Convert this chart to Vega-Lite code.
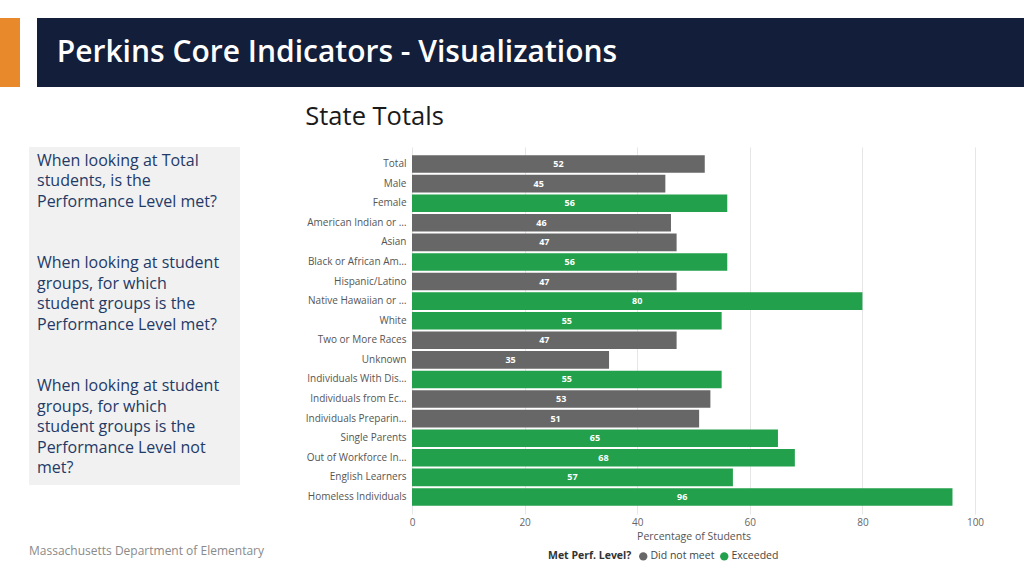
{
  "$schema": "https://vega.github.io/schema/vega-lite/v6.json",
  "background": "white",
  "padding": {"left": 0, "top": 18, "right": 0, "bottom": 0},
  "config": {"view": {"stroke": null}, "font": "Open Sans"},
  "spacing": 17,
  "vconcat": [
    {
      "spacing": 17,
      "hconcat": [
        {"width": 20, "height": 69, "view": {"fill": "#e8892b", "stroke": null}, "data": {"values": [{}]}, "mark": {"type": "text"}, "encoding": {"text": {"value": ""}}},
        {
          "width": 987, "height": 69,
          "view": {"fill": "#121e3a", "stroke": null},
          "data": {"values": [{"label": "Perkins Core Indicators - Visualizations"}]},
          "mark": {"type": "text", "align": "left", "baseline": "middle", "color": "white", "font": "Open Sans", "fontSize": 30, "fontWeight": 600},
          "encoding": {
            "text": {"field": "label"},
            "x": {"datum": 2, "type": "quantitative", "scale": {"domain": [0, 100]}, "axis": null},
            "y": {"datum": 50, "type": "quantitative", "scale": {"domain": [0, 100]}, "axis": null}
          }
        }
      ]
    },
    {
      "spacing": 0,
      "hconcat": [
        {"width": 29, "height": 1, "data": {"values": [{}]}, "mark": {"type": "text"}, "encoding": {"text": {"value": ""}}},
        {
          "spacing": 0,
          "vconcat": [
            {
              "width": 211, "height": 338,
              "view": {"fill": "#f1f1f2", "stroke": null},
              "data": {"values": [
                {"line": 0, "text": "When looking at Total"},
                {"line": 1, "text": "students, is the"},
                {"line": 2, "text": "Performance Level met?"},
                {"line": 5, "text": "When looking at student"},
                {"line": 6, "text": "groups, for which"},
                {"line": 7, "text": "student groups is the"},
                {"line": 8, "text": "Performance Level met?"},
                {"line": 11, "text": "When looking at student"},
                {"line": 12, "text": "groups, for which"},
                {"line": 13, "text": "student groups is the"},
                {"line": 14, "text": "Performance Level not"},
                {"line": 15, "text": "met?"}
              ]},
              "mark": {"type": "text", "align": "left", "baseline": "middle", "color": "#243a66", "fontSize": 16, "font": "Open Sans"},
              "encoding": {
                "text": {"field": "text"},
                "x": {"datum": 8, "type": "quantitative", "scale": {"domain": [0, 211]}, "axis": null},
                "y": {"field": "line", "type": "quantitative", "scale": {"domain": [-0.68, 15.83], "reverse": true, "nice": false, "zero": false}, "axis": null}
              }
            },
            {"width": 10, "height": 56, "data": {"values": [{}]}, "mark": {"type": "text"}, "encoding": {"text": {"value": ""}}},
            {
              "width": 211, "height": 20,
              "data": {"values": [{"label": "Massachusetts Department of Elementary"}]},
              "mark": {"type": "text", "align": "left", "baseline": "middle", "color": "#8a8a8a", "fontSize": 12, "font": "Open Sans"},
              "encoding": {
                "text": {"field": "label"},
                "x": {"datum": 0, "type": "quantitative", "scale": {"domain": [0, 211]}, "axis": null},
                "y": {"datum": 50, "type": "quantitative", "scale": {"domain": [0, 100]}, "axis": null}
              }
            }
          ]
        },
        {"width": 41, "height": 1, "data": {"values": [{}]}, "mark": {"type": "text"}, "encoding": {"text": {"value": ""}}},
        {
          "width": 563, "height": 367,
          "title": {"text": "State Totals", "anchor": "start", "frame": "bounds", "fontSize": 25.5, "fontWeight": "normal", "font": "Open Sans", "color": "#1a1a1a", "offset": 17},
          "data": {"values": [
            {"group": "Total", "pct": 52, "status": "Did not meet"},
            {"group": "Male", "pct": 45, "status": "Did not meet"},
            {"group": "Female", "pct": 56, "status": "Exceeded"},
            {"group": "American Indian or Alaska Native", "pct": 46, "status": "Did not meet"},
            {"group": "Asian", "pct": 47, "status": "Did not meet"},
            {"group": "Black or African American", "pct": 56, "status": "Exceeded"},
            {"group": "Hispanic/Latino", "pct": 47, "status": "Did not meet"},
            {"group": "Native Hawaiian or Other Pacific Islander", "pct": 80, "status": "Exceeded"},
            {"group": "White", "pct": 55, "status": "Exceeded"},
            {"group": "Two or More Races", "pct": 47, "status": "Did not meet"},
            {"group": "Unknown", "pct": 35, "status": "Did not meet"},
            {"group": "Individuals With Disabilities", "pct": 55, "status": "Exceeded"},
            {"group": "Individuals from Economically Disadvantaged Families", "pct": 53, "status": "Did not meet"},
            {"group": "Individuals Preparing for Non-traditional Fields", "pct": 51, "status": "Did not meet"},
            {"group": "Single Parents", "pct": 65, "status": "Exceeded"},
            {"group": "Out of Workforce Individuals", "pct": 68, "status": "Exceeded"},
            {"group": "English Learners", "pct": 57, "status": "Exceeded"},
            {"group": "Homeless Individuals", "pct": 96, "status": "Exceeded"}
          ]},
          "layer": [
            {
              "mark": {"type": "bar"},
              "encoding": {
                "y": {"field": "group", "type": "nominal", "sort": null, "scale": {"paddingInner": 0.1, "paddingOuter": 0.42},
                      "axis": {"title": null, "ticks": false, "domain": false, "labelLimit": 102, "labelPadding": 6, "labelFontSize": 10, "labelColor": "#555555"}},
                "x": {"field": "pct", "type": "quantitative", "scale": {"domain": [0, 100]},
                      "axis": {"title": "Percentage of Students", "values": [0, 20, 40, 60, 80, 100], "grid": true, "gridColor": "#e6e6e6", "domain": false, "ticks": false, "labelFlush": false,
                               "labelFontSize": 10, "labelColor": "#666666", "labelPadding": 3, "titleFontSize": 10.5, "titleFontWeight": "normal", "titleColor": "#555555", "titlePadding": 4}},
                "color": {"field": "status", "type": "nominal", "scale": {"domain": ["Did not meet", "Exceeded"], "range": ["#676767", "#22a04b"]},
                          "legend": {"title": "Met Perf. Level?", "orient": "none", "legendX": 548, "legendY": 533, "direction": "horizontal", "titleOrient": "left",
                                     "symbolType": "circle", "symbolSize": 70, "labelFontSize": 10.5, "titleFontSize": 10.5, "titleFontWeight": "bold",
                                     "titleColor": "#333333", "labelColor": "#444444", "columnPadding": 4, "labelOffset": 2, "titlePadding": 6}}
              }
            },
            {
              "mark": {"type": "text", "color": "white", "fontWeight": "bold", "fontSize": 9},
              "encoding": {
                "y": {"field": "group", "type": "nominal", "sort": null},
                "x": {"field": "pct", "type": "quantitative", "scale": {"domain": [0, 200]}, "axis": null},
                "text": {"field": "pct", "type": "quantitative"}
              }
            }
          ],
          "resolve": {"scale": {"x": "independent"}}
        }
      ]
    }
  ]
}
